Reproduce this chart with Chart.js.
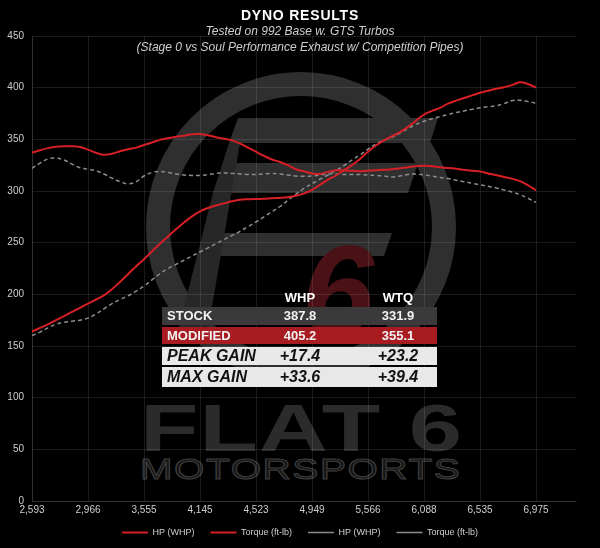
<!DOCTYPE html>
<html>
<head>
<meta charset="utf-8">
<script src="https://cdn.jsdelivr.net/npm/chart.js@4.4.1/dist/chart.umd.min.js"></script>
<style>
  html, body { margin:0; padding:0; background:#000; }
  #wrap { position:relative; width:600px; height:548px; overflow:hidden; background:#000; font-family:"Liberation Sans", Arial, sans-serif; }
  #wm { position:absolute; left:0; top:0; }
  #c { position:absolute; left:0; top:0; }
  .t { position:absolute; left:0; width:600px; text-align:center; white-space:nowrap; }
  #title { top:7px; font-size:14px; font-weight:bold; color:#fff; letter-spacing:0.8px; }
  #sub1 { top:24px; font-size:12px; font-style:italic; color:#cfcfcf; }
  #sub2 { top:40px; font-size:12px; font-style:italic; color:#cfcfcf; }
  .row { position:absolute; left:162px; width:275px; font-size:13px; font-weight:bold; }
  .row span { position:absolute; top:0; }
  .c0 { left:5px; }
  .c1 { left:108px; width:60px; text-align:center; }
  .c2 { left:206px; width:60px; text-align:center; }
</style>
</head>
<body>
<div id="wrap">
  <svg id="wm" width="600" height="548" xmlns="http://www.w3.org/2000/svg">
    <circle cx="301" cy="227" r="143" fill="none" stroke="#2f2f2f" stroke-width="24"/>
    <polygon points="238,118 438,118 430,143 229,143" fill="#2f2f2f"/>
    <polygon points="224,163 418,163 408,193 213,193" fill="#2f2f2f"/>
    <polygon points="205,233 392,233 384,256 197,256" fill="#2f2f2f"/>
    <polygon points="229,143 213,193 197,256 178,330 208,330 240,143" fill="#272727"/>
    <text x="338" y="336" font-family="Liberation Sans, Arial, sans-serif" font-size="130" font-weight="bold" font-style="italic" fill="#4a1216" text-anchor="middle">6</text>
    <text transform="translate(140,451) scale(1.45,1)" x="0" y="0" font-family="Liberation Sans, Arial, sans-serif" font-size="66" font-weight="bold" fill="#2b2b2b" textLength="222" lengthAdjust="spacing">FLAT 6</text>
    <text transform="translate(140,479) scale(1.3,1)" x="0" y="0" font-family="Liberation Sans, Arial, sans-serif" font-size="30" fill="#141414" stroke="#3e3e3e" stroke-width="1" textLength="246" lengthAdjust="spacing">MOTORSPORTS</text>
  </svg>
  <canvas id="c" width="600" height="548"></canvas>
  <div class="t" id="title">DYNO RESULTS</div>
  <div class="t" id="sub1">Tested on 992 Base w. GTS Turbos</div>
  <div class="t" id="sub2">(Stage 0 vs Soul Performance Exhaust w/ Competition Pipes)</div>

  <div class="row" style="top:290px;height:16px;color:#fff;line-height:16px;">
    <span class="c1">WHP</span><span class="c2">WTQ</span>
  </div>
  <div class="row" style="top:307px;height:18px;background:#3a3a3a;color:#f2f2f2;line-height:18px;">
    <span class="c0">STOCK</span><span class="c1">387.8</span><span class="c2">331.9</span>
  </div>
  <div class="row" style="top:327px;height:17px;background:#a81c21;color:#f2f2f2;line-height:17px;">
    <span class="c0">MODIFIED</span><span class="c1">405.2</span><span class="c2">355.1</span>
  </div>
  <div class="row" style="top:347px;height:18px;background:#e8e8e8;color:#111;line-height:18px;font-size:16px;font-style:italic;">
    <span class="c0">PEAK GAIN</span><span class="c1">+17.4</span><span class="c2">+23.2</span>
  </div>
  <div class="row" style="top:367px;height:20px;background:#e8e8e8;color:#111;line-height:20px;font-size:16px;font-style:italic;">
    <span class="c0">MAX GAIN</span><span class="c1">+33.6</span><span class="c2">+39.4</span>
  </div>
</div>
<script>
// ---- data ----
const STEP = 7;              // categories between labelled ticks
const EXTRA_CATEGORIES = 5;  // empty categories after the last run point
const tickLabels = ['2,593','2,966','3,555','4,145','4,523','4,949','5,566','6,088','6,535','6,975'];
const yTicks = [0,50,100,150,200,250,300,350,400,450];

const modHP = [164,167.5,171,175,179,183,187,191,195,199,205,212,219.5,227,234,241.5,249,256,263,269.5,275.5,280.3,283.5,286,288,290,291.5,292,292.3,292.5,293,293.3,294,295.5,297.5,301,306,311,315,320,325,331,338,344,349,353,357,362,368,374,377.5,380.5,384.5,387.5,390,392.5,395,397,399,400.5,402.5,405.2,403.5,400];
const modTQ = [337,339.5,341.5,342.8,343.3,343.3,342.5,340,337,335,336,338.5,340.5,342,344.5,347,349.5,351,352.5,353.5,355,355.1,354,352,350.5,349,346,342,338,334,330.5,328,325,321,319,317,316.5,318.5,320,320,319.5,319,319.5,320,320.5,321,322,323,324,324.5,324,323,322.3,321.5,320.5,319.5,319,317,315.5,313.5,312,309.5,305.5,300.7];
const stockHP = [160,163.5,167.5,171,173,174,175,177,181,186,191,195,198.5,203,208,214,220,225,229,233,237,241,245,249,253,257,261,265.5,270,275,280,285,291,297,302.5,307,311.5,315.5,320,324.5,330,335,340.5,345.5,349,352,356,360.5,364.5,367.5,370,372,374,376,377.5,379,380.5,381.5,382.5,384.5,387.5,387.8,386.5,385];
const stockTQ = [322,327,331,331.9,330,326,322.5,321,319.5,316.5,312.5,309,307,309,314.5,318,319,318,316.5,315.5,315,315,316,317,317.5,317,316.5,316,316,316.5,317,316.5,315.5,314.5,314.2,314.5,315.5,316.5,316.5,316,316,316,315.5,315,314.5,313.5,314.5,316,316.5,315.5,314.5,313,312,310.5,309,307.5,306,304.5,303,301,299,296.5,293,289];

// category list: labelled ticks every STEP categories, others blank
const categories = [];
const nCat = (tickLabels.length - 1) * STEP + 1 + EXTRA_CATEGORIES;
for (let i = 0; i < nCat; i++) {
  categories.push(i % STEP === 0 && i / STEP < tickLabels.length ? tickLabels[i / STEP] : '');
}

const RED = '#d71f27';
const GRAY = '#8c8c8c';
const GRID = 'rgba(255,255,255,0.10)';
const FONT = '"Liberation Sans", Arial, sans-serif';

new Chart(document.getElementById('c'), {
  type: 'line',
  data: {
    labels: categories,
    datasets: [
      { label: 'HP (WHP)', data: modHP, borderColor: RED, backgroundColor: RED, borderWidth: 2, pointStyle: 'line' },
      { label: 'Torque (ft-lb)', data: modTQ, borderColor: RED, backgroundColor: RED, borderWidth: 2, pointStyle: 'line' },
      { label: 'HP (WHP)', data: stockHP, borderColor: GRAY, backgroundColor: GRAY, borderWidth: 1.5, borderDash: [4, 3], pointStyle: 'line' },
      { label: 'Torque (ft-lb)', data: stockTQ, borderColor: GRAY, backgroundColor: GRAY, borderWidth: 1.5, borderDash: [4, 3], pointStyle: 'line' }
    ]
  },
  options: {
    responsive: false,
    animation: false,
    devicePixelRatio: 1,
    layout: { padding: { left: 0, right: 0, top: 36, bottom: 1 } },
    elements: { point: { radius: 0, hoverRadius: 0 }, line: { tension: 0.4, fill: false } },
    plugins: {
      tooltip: { enabled: false },
      title: { display: false },
      legend: {
        position: 'bottom',
        labels: {
          color: '#cfcfcf',
          font: { family: FONT, size: 9 },
          usePointStyle: true,
          pointStyleWidth: 26,
          boxHeight: 9,
          padding: 16
        }
      }
    },
    scales: {
      x: {
        type: 'category',
        grid: { color: GRID, drawTicks: false },
        border: { color: GRID },
        afterFit: function (s) {
          s.height = 11;
          s._computeLabelArea = function () { return undefined; }; // let labels overflow the short axis box
        },
        ticks: {
          autoSkip: false,
          maxRotation: 0,
          padding: 3,
          color: '#cfcfcf',
          font: { family: FONT, size: 10 },
          callback: function (v) { const l = this.getLabelForValue(v); return l === '' ? null : l; }
        }
      },
      y: {
        min: yTicks[0],
        max: yTicks[yTicks.length - 1],
        grid: { color: GRID, drawTicks: false },
        border: { color: GRID },
        afterFit: function (s) { s.width = 32; },
        afterBuildTicks: function (s) { s.ticks = yTicks.map(v => ({ value: v })); },
        ticks: { padding: 8, color: '#cfcfcf', font: { family: FONT, size: 10 } }
      },
      yRightSpace: {
        type: 'linear',
        position: 'right',
        grid: { display: false, drawTicks: false },
        border: { display: false },
        ticks: { display: false },
        afterFit: function (s) { s.width = 24; }
      }
    }
  }
});
</script>
</body>
</html>
